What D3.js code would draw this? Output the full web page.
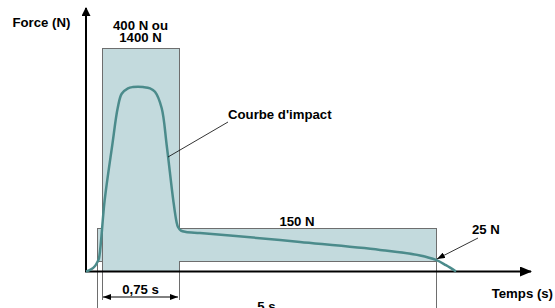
<!DOCTYPE html>
<html>
<head>
<meta charset="utf-8">
<script src="https://cdn.jsdelivr.net/npm/d3@7"></script>
<style>
  body { margin: 0; background: #fff; }
  text { font-family: "Liberation Sans", Arial, sans-serif; font-weight: bold; font-size: 13.2px; fill: #000; }
</style>
</head>
<body>
<svg id="chart" width="555" height="308"></svg>
<script>
// schematic time (s) and force (N) breakpoints
const timeBreaks = [0, 0.05, 0.1, 0.85, 5.05, 5.5];
const forceBreaks = [0, 25, 150, 1400];

// zones: peak zone (0,75 s) and sustained zone (5 s)
const peakZone = { t0: 0.1, t1: 0.85, f0: 0, f1: 1400 };
const holdZone = { t0: 0.05, t1: 5.05, f0: 25, f1: 150 };

// impact curve
const curveT = [0, 0.023, 0.041, 0.055, 0.07, 0.126, 0.2, 0.253, 0.292, 0.353, 0.402, 0.451, 0.499, 0.568, 0.616, 0.681, 0.73, 0.794, 0.826, 0.84, 0.883, 0.964, 1.193, 1.683, 2.827, 4.135, 4.789, 5.05, 5.097, 5.145];
const curveF = [0, 5, 13, 23, 36, 344, 726, 983, 1082, 1120, 1129, 1131, 1129, 1120, 1096, 983, 726, 344, 192, 157, 140, 135, 131, 122, 97, 67, 46, 29, 15, 0];

const svg = d3.select("#chart");

const x = d3.scaleLinear()
    .domain(timeBreaks)
    .range([86, 97, 102, 179, 436, 531]);

const y = d3.scaleLinear()
    .domain(forceBreaks)
    .range([271.5, 261, 228, 48]);

const fillColor = "#c3dadd";
const edgeColor = "#6e6e6e";

// zone fills
[peakZone, holdZone].forEach(z => {
    svg.append("rect")
        .attr("x", x(z.t0))
        .attr("y", y(z.f1))
        .attr("width", x(z.t1) - x(z.t0))
        .attr("height", y(z.f0) - y(z.f1))
        .attr("fill", fillColor);
});

// zone edges (outline of union + extension lines)
const bottom = 308;
const dimY = 300;
const edges = [
    // peak zone
    [[x(peakZone.t0), y(peakZone.f1)], [x(peakZone.t1), y(peakZone.f1)]],
    [[x(peakZone.t0), y(peakZone.f1)], [x(peakZone.t0), dimY]],
    [[x(peakZone.t1), y(peakZone.f1)], [x(peakZone.t1), y(holdZone.f1)]],
    [[x(peakZone.t1), y(holdZone.f0)], [x(peakZone.t1), dimY]],
    // hold zone
    [[x(holdZone.t0), y(holdZone.f1)], [x(peakZone.t0), y(holdZone.f1)]],
    [[x(peakZone.t1), y(holdZone.f1)], [x(holdZone.t1), y(holdZone.f1)]],
    [[x(holdZone.t0), y(holdZone.f0)], [x(peakZone.t0), y(holdZone.f0)]],
    [[x(peakZone.t1), y(holdZone.f0)], [x(holdZone.t1), y(holdZone.f0)]],
    [[x(holdZone.t0), y(holdZone.f1)], [x(holdZone.t0), bottom]],
    [[x(holdZone.t1), y(holdZone.f1)], [x(holdZone.t1), bottom]]
];
svg.append("g")
    .selectAll("line")
    .data(edges)
    .join("line")
    .attr("x1", d => d[0][0]).attr("y1", d => d[0][1])
    .attr("x2", d => d[1][0]).attr("y2", d => d[1][1])
    .attr("stroke", edgeColor)
    .attr("stroke-width", 1)
    .attr("shape-rendering", "crispEdges");

// arrow markers
const defs = svg.append("defs");
defs.append("marker")
    .attr("id", "xArrow")
    .attr("viewBox", "0 0 12 10")
    .attr("refX", 11).attr("refY", 5)
    .attr("markerWidth", 12).attr("markerHeight", 10)
    .attr("markerUnits", "userSpaceOnUse")
    .attr("orient", "auto")
    .append("path").attr("d", "M0,0L12,5L0,10Z").attr("fill", "#000");
defs.append("marker")
    .attr("id", "yArrow")
    .attr("viewBox", "0 0 9 9")
    .attr("refX", 8).attr("refY", 4.5)
    .attr("markerWidth", 9).attr("markerHeight", 9)
    .attr("markerUnits", "userSpaceOnUse")
    .attr("orient", "auto")
    .append("path").attr("d", "M0,0L9,4.5L0,9Z").attr("fill", "#000");
defs.append("marker")
    .attr("id", "smallArrow")
    .attr("viewBox", "0 0 8 6")
    .attr("refX", 8).attr("refY", 3)
    .attr("markerWidth", 8).attr("markerHeight", 6)
    .attr("markerUnits", "userSpaceOnUse")
    .attr("orient", "auto-start-reverse")
    .append("path").attr("d", "M0,0L8,3L0,6Z").attr("fill", "#000");

// axes
svg.append("line")
    .attr("x1", x(0)).attr("y1", y(0))
    .attr("x2", x(0)).attr("y2", 8)
    .attr("stroke", "#000").attr("stroke-width", 2)
    .attr("marker-end", "url(#yArrow)");
svg.append("line")
    .attr("x1", x(0) - 1).attr("y1", y(0))
    .attr("x2", x(5.5)).attr("y2", y(0))
    .attr("stroke", "#000").attr("stroke-width", 2)
    .attr("marker-end", "url(#xArrow)");

// impact curve
const curveData = curveT.map((t, i) => [t, curveF[i]]);
svg.append("path")
    .datum(curveData)
    .attr("d", d3.line().x(d => x(d[0])).y(d => y(d[1])).curve(d3.curveCatmullRom.alpha(0.5)))
    .attr("fill", "none")
    .attr("stroke", "#4b8b8b")
    .attr("stroke-width", 2.5);

// dimension 0,75 s
svg.append("line")
    .attr("x1", x(peakZone.t0) + 1).attr("y1", 297)
    .attr("x2", x(peakZone.t1) - 1).attr("y2", 297)
    .attr("stroke", "#000").attr("stroke-width", 1)
    .attr("marker-start", "url(#smallArrow)")
    .attr("marker-end", "url(#smallArrow)");

// leaders
svg.append("line")
    .attr("x1", 168).attr("y1", 157).attr("x2", 228).attr("y2", 122)
    .attr("stroke", "#000").attr("stroke-width", 0.8);
svg.append("line")
    .attr("x1", 478).attr("y1", 238).attr("x2", x(5.05) + 1).attr("y2", y(29) - 1)
    .attr("stroke", "#000").attr("stroke-width", 0.8)
    .attr("marker-end", "url(#smallArrow)");

// labels
const labels = [
    { text: "Force (N)", px: 12.5, py: 26.7, anchor: "start" },
    { text: "400 N ou", px: (x(peakZone.t0) + x(peakZone.t1)) / 2, py: 29.5, anchor: "middle" },
    { text: "1400 N", px: (x(peakZone.t0) + x(peakZone.t1)) / 2, py: 42, anchor: "middle" },
    { text: "Courbe d'impact", px: 228, py: 118.5, anchor: "start" },
    { text: "150 N", px: 297, py: 226, anchor: "middle" },
    { text: "25 N", px: 472, py: 234, anchor: "start" },
    { text: "Temps (s)", px: 553, py: 298, anchor: "end" },
    { text: "0,75 s", px: (x(peakZone.t0) + x(peakZone.t1)) / 2, py: 294, anchor: "middle" },
    { text: "5 s", px: (x(holdZone.t0) + x(holdZone.t1)) / 2, py: 311, anchor: "middle" }
];
svg.append("g")
    .selectAll("text")
    .data(labels)
    .join("text")
    .attr("x", d => d.px)
    .attr("y", d => d.py)
    .attr("text-anchor", d => d.anchor)
    .text(d => d.text);
</script>
</body>
</html>
